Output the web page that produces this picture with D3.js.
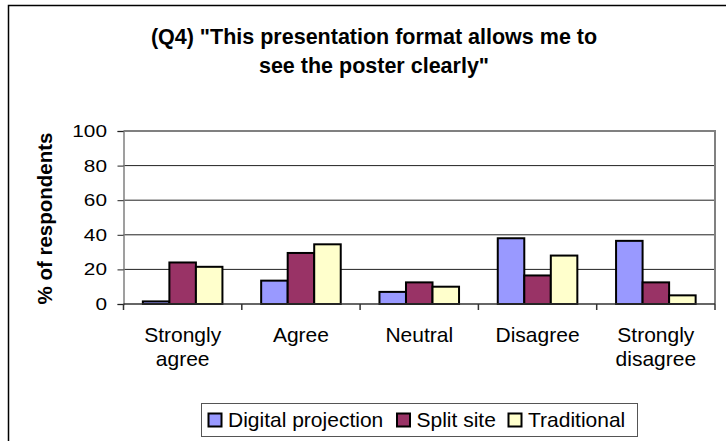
<!DOCTYPE html>
<html><head><meta charset="utf-8">
<script src="https://cdn.jsdelivr.net/npm/d3@7"></script>
<style>html,body{margin:0;padding:0;background:#fff;overflow:hidden}</style>
</head><body>
<svg id="c" width="726" height="441"></svg>
<script>
const categories = [["Strongly","agree"],["Agree"],["Neutral"],["Disagree"],["Strongly","disagree"]];
const seriesNames = ["Digital projection","Split site","Traditional"];
const seriesColors = ["#9999FF","#993366","#FFFFCC"];
const digital = [1.5, 13.5, 7, 38, 36.5];
const split = [24, 29.5, 12.5, 16.5, 12.5];
const traditional = [21.5, 34.5, 10, 28, 5];
const yTicks = [0,20,40,60,80,100];
const titleLines = ["(Q4) \"This presentation format allows me to", "see the poster clearly\""];
const yTitle = "% of respondents";

const seriesValues = [digital, split, traditional];
const svg = d3.select("#c");
const font = "'Liberation Sans', Arial, sans-serif";

// outer chart border
svg.append("rect").attr("x",8.5).attr("y",5.5).attr("width",800).attr("height",500)
  .attr("fill","#fff").attr("stroke","#000").attr("stroke-width",1.5);

const L=123.5, R=715, T=131, B=304;
const x0 = d3.scaleBand().domain(d3.range(categories.length)).range([L,R]).padding(0);
const x1 = d3.scaleBand().domain(d3.range(seriesNames.length)).range([0,x0.bandwidth()]).paddingInner(0).paddingOuter(0.73);
const y = d3.scaleLinear().domain([0,100]).range([B,T]);

// gridlines
svg.append("g").selectAll("line").data(yTicks.filter(d=>d>0 && d<100)).join("line")
  .attr("x1",L).attr("x2",R).attr("y1",d=>y(d)).attr("y2",d=>y(d))
  .attr("stroke","#222").attr("stroke-width",1);

// plot frame top/right
svg.append("path").attr("d",`M${L},${y(100)}H${R}V${B}`).attr("fill","none").attr("stroke","#808080").attr("stroke-width",2);

// bars
const g = svg.append("g");
seriesValues.forEach((vals,si)=>{
  g.selectAll(null).data(vals).join("rect")
    .attr("x",(d,i)=>x0(i)+x1(si))
    .attr("y",d=>y(d))
    .attr("width",x1.bandwidth())
    .attr("height",d=>y(0)-y(d))
    .attr("fill",seriesColors[si]).attr("stroke","#000").attr("stroke-width",2);
});

// y axis
const yAxis = d3.axisLeft(y).tickValues(yTicks).tickSize(6).tickPadding(0).tickFormat(d=>"");
const ya = svg.append("g").attr("transform",`translate(${L},0)`).call(yAxis);
ya.select(".domain").attr("stroke","#808080").attr("stroke-width",1.5);
ya.selectAll(".tick line").attr("stroke","#222");
yTicks.forEach(t=>{
  svg.append("text").attr("transform",`translate(107,${y(t)+6}) scale(1.3,1)`)
    .attr("text-anchor","end").attr("font-family",font).attr("font-size",16).attr("fill","#000").text(t);
});

// x axis
const xa = svg.append("g").attr("transform",`translate(0,${B})`);
xa.append("line").attr("x1",L).attr("x2",R).attr("y1",0).attr("y2",0).attr("stroke","#333").attr("stroke-width",1.5);
xa.selectAll("line.t").data(d3.range(categories.length+1)).join("line").attr("class","t")
  .attr("x1",i=>L+i*x0.step()).attr("x2",i=>L+i*x0.step()).attr("y1",0).attr("y2",6).attr("stroke","#333").attr("stroke-width",1.5);
categories.forEach((lines,i)=>{
  const t = svg.append("text").attr("text-anchor","middle").attr("font-family",font).attr("font-size",21).attr("fill","#000");
  lines.forEach((ln,j)=>{
    t.append("tspan").attr("x",x0(i)+x0.bandwidth()/2).attr("y",342+j*23.5).text(ln);
  });
});

// y title
svg.append("text").attr("transform",`translate(52,${(129+308)/2}) rotate(-90)`)
  .attr("text-anchor","middle").attr("font-family",font).attr("font-weight","bold").attr("font-size",20.5).attr("fill","#000").text(yTitle);

// title
titleLines.forEach((ln,j)=>{
  svg.append("text").attr("x",374).attr("y",44+j*29).attr("text-anchor","middle")
    .attr("font-family",font).attr("font-weight","bold").attr("font-size",21.5).attr("fill","#000").text(ln);
});

// legend
svg.append("rect").attr("x",201.5).attr("y",403.5).attr("width",436).attr("height",33)
  .attr("fill","#fff").attr("stroke","#555").attr("stroke-width",1);
const legX = [208.5, 397, 508.5];
seriesNames.forEach((n,i)=>{
  svg.append("rect").attr("x",legX[i]).attr("y",413.5).attr("width",13).attr("height",13)
    .attr("fill",seriesColors[i]).attr("stroke","#000").attr("stroke-width",2);
  svg.append("text").attr("x",legX[i]+19.5).attr("y",427).attr("font-family",font).attr("font-size",21).attr("fill","#000").text(n);
});
</script>
</body></html>
